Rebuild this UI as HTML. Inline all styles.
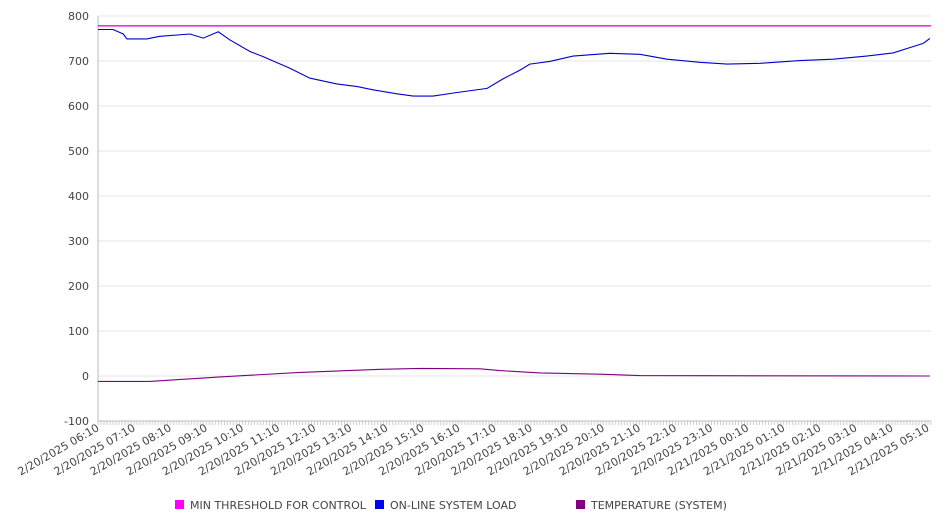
<!DOCTYPE html>
<html><head><meta charset="utf-8"><style>
body{margin:0;background:#fff;font-family:"DejaVu Sans","Liberation Sans",sans-serif;}
svg text{fill:#444;font-size:11px;font-family:"DejaVu Sans","Liberation Sans",sans-serif;}
</style></head><body>
<svg id="chart" width="946" height="526"></svg>
<script>
const yTicks=[800,700,600,500,400,300,200,100,0,-100];
const hourLabels=["2/20/2025 06:10","2/20/2025 07:10","2/20/2025 08:10","2/20/2025 09:10","2/20/2025 10:10","2/20/2025 11:10","2/20/2025 12:10","2/20/2025 13:10","2/20/2025 14:10","2/20/2025 15:10","2/20/2025 16:10","2/20/2025 17:10","2/20/2025 18:10","2/20/2025 19:10","2/20/2025 20:10","2/20/2025 21:10","2/20/2025 22:10","2/20/2025 23:10","2/21/2025 00:10","2/21/2025 01:10","2/21/2025 02:10","2/21/2025 03:10","2/21/2025 04:10","2/21/2025 05:10"];
const thresholdValue=778;
const loadMinutes=[0,25,42,48,81,103,153,175,200,219,253,274,319,352,397,431,457,497,524,557,597,647,673,702,718,751,790,851,901,946,1001,1046,1101,1167,1222,1278,1322,1355,1372,1383];
const loadValues=[770,770,760,749,749,755,760,751,765,747,721,710,684,662,649,643,636,627,622,622,630,639,660,680,693,699,711,717,715,704,697,693,695,701,704,711,718,732,739,750];
const tempMinutes=[0,86,203,336,469,536,635,668,735,835,901,1383];
const tempValues=[-12,-12,-2,8,15,17,16,12,7,4,1,0];
const NS="http://www.w3.org/2000/svg";
const svg=document.getElementById('chart');
const X0=98,X1=931,Y0=421,MAXMIN=1385;
const xs=m=>X0+(X1-X0)*m/MAXMIN;
const ys=v=>376-v*0.45;
function mk(t,a){const e=document.createElementNS(NS,t);for(const k in a)e.setAttribute(k,a[k]);svg.appendChild(e);return e;}
yTicks.forEach(v=>{
 const g=mk('line',{x1:X0,x2:X1,y1:ys(v),y2:ys(v),stroke:'#e6e6e6','stroke-width':1});
 
 
 const t=mk('text',{x:89,y:ys(v)+4,'text-anchor':'end'});t.textContent=v;
 
 
});
const ax=mk('line',{x1:X0,x2:X0,y1:16,y2:Y0,stroke:'#bbb'});


const bx=mk('line',{x1:X0,x2:X1,y1:Y0,y2:Y0,stroke:'#bbb'});


for(let m=0;m<=MAXMIN;m+=5){const l=mk('line',{x1:xs(m),x2:xs(m),y1:Y0,y2:Y0+4,stroke:'#ccc'});
 
 }
hourLabels.forEach((s,i)=>{const x=xs(i*60);
 const t=mk('text',{x:x+2,y:Y0+9,'text-anchor':'end',transform:`rotate(-30 ${x+2} ${Y0+9})`});t.textContent=s;
 
 });
const th=mk('line',{x1:X0,x2:X1,y1:ys(thresholdValue),y2:ys(thresholdValue),stroke:'#cc00cc','stroke-width':1.2});


function path(ms,vs,c,name){const d=ms.map((m,i)=>(i?'L':'M')+xs(m).toFixed(1)+' '+ys(vs[i]).toFixed(1)).join(' ');
 const p=mk('path',{d:d,fill:'none',stroke:c,'stroke-width':1.1});
 
 }
path(loadMinutes,loadValues,'#0000cc','online-load-line');
path(tempMinutes,tempValues,'#800080','temperature-line');
const leg=[['#ff00ff','MIN THRESHOLD FOR CONTROL',175],['#0000ff','ON-LINE SYSTEM LOAD',375],['#800080','TEMPERATURE (SYSTEM)',576]];
leg.forEach(l=>{const r=mk('rect',{x:l[2],y:500,width:9,height:9,fill:l[0]});
 
 
 const t=mk('text',{x:l[2]+15,y:509});t.textContent=l[1];
 
 });
</script>
</body></html>
